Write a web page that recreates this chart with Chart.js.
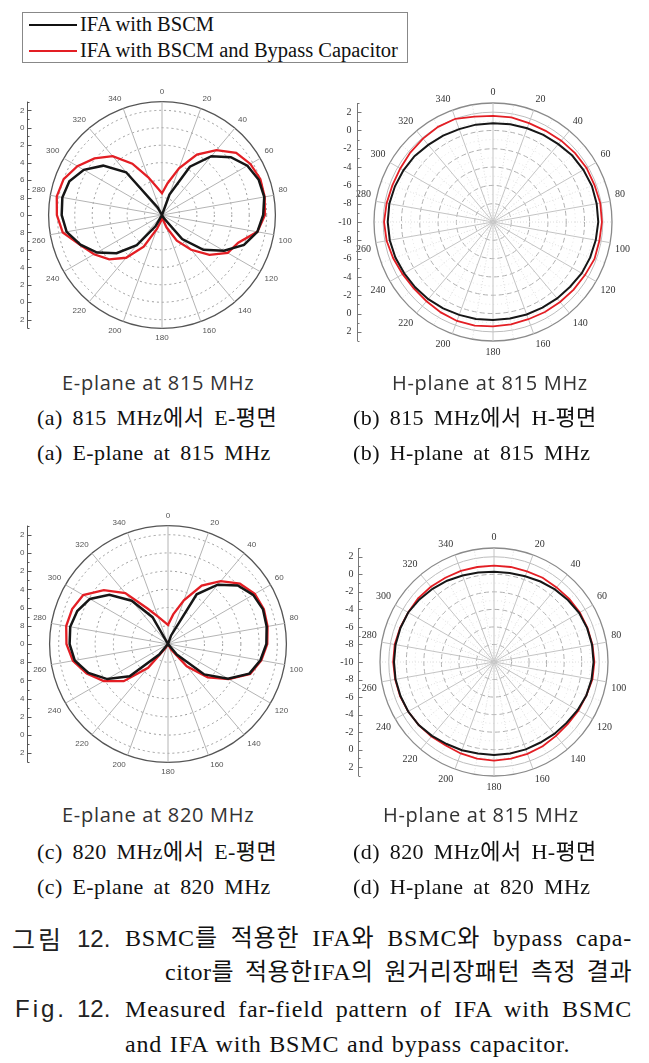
<!DOCTYPE html>
<html><head><meta charset="utf-8">
<script src="https://cdn.jsdelivr.net/npm/chart.js@4/dist/chart.umd.min.js"></script>
<style>
html,body{margin:0;padding:0;background:#fff;}
body{width:649px;height:1063px;position:relative;overflow:hidden;}
.abs{position:absolute;white-space:nowrap;}
canvas{position:absolute;}
.serif{font-family:"Liberation Serif","Noto Sans CJK KR",serif;color:#111;}
.sans{font-family:"Open Sans","Liberation Sans",sans-serif;color:#333;}
.sub{font-size:22px;line-height:22px;word-spacing:4px;letter-spacing:0.4px;}
.plab{font-size:20px;line-height:20px;letter-spacing:0.7px;}
.cap{font-size:24px;line-height:24px;letter-spacing:0.8px;}
.just{text-align:justify;text-align-last:justify;}
.fs{font-family:"Liberation Sans",sans-serif;color:#222;font-size:24px;line-height:24px;}
</style></head><body>

<div class="abs" style="left:22px;top:12px;width:384px;height:49px;border:1px solid #888;"></div>
<div class="abs" style="left:29px;top:24px;width:48px;height:2px;background:#111;"></div>
<div class="abs serif" style="left:80px;top:13px;font-size:20.5px;line-height:22px;">IFA with BSCM</div>
<div class="abs" style="left:29px;top:50px;width:48px;height:2px;background:#e31e24;"></div>
<div class="abs serif" style="left:80px;top:39px;font-size:20.5px;line-height:22px;">IFA with BSCM and Bypass Capacitor</div>

<canvas id="c1" width="290" height="280" style="left:20px;top:80px;"></canvas>
<canvas id="c2" width="314" height="300" style="left:335px;top:80px;"></canvas>
<canvas id="c3" width="300" height="300" style="left:20px;top:500px;"></canvas>
<canvas id="c4" width="314" height="300" style="left:335px;top:520px;"></canvas>

<div class="abs sans plab" style="left:62px;top:373px;">E-plane at 815 MHz</div>
<div class="abs sans plab" style="left:392px;top:373px;">H-plane at 815 MHz</div>
<div class="abs serif sub" style="left:37px;top:407px;">(a) 815 MHz에서 E-평면</div>
<div class="abs serif sub" style="left:353px;top:407px;">(b) 815 MHz에서 H-평면</div>
<div class="abs serif sub" style="left:37px;top:442px;">(a) E-plane at 815 MHz</div>
<div class="abs serif sub" style="left:353px;top:442px;">(b) H-plane at 815 MHz</div>

<div class="abs sans plab" style="left:62px;top:805px;">E-plane at 820 MHz</div>
<div class="abs sans plab" style="left:383px;top:805px;">H-plane at 815 MHz</div>
<div class="abs serif sub" style="left:37px;top:841px;">(c) 820 MHz에서 E-평면</div>
<div class="abs serif sub" style="left:353px;top:841px;">(d) 820 MHz에서 H-평면</div>
<div class="abs serif sub" style="left:37px;top:876px;">(c) E-plane at 820 MHz</div>
<div class="abs serif sub" style="left:353px;top:876px;">(d) H-plane at 820 MHz</div>

<div class="abs" style="left:12px;top:925px;font-family:'Noto Sans CJK KR',sans-serif;color:#222;font-size:25px;line-height:26px;letter-spacing:3px;">그림</div>
<div class="abs fs" style="left:77px;top:927px;">12.</div>
<div class="abs serif cap just" style="left:125px;top:926px;width:507px;">BSMC를 적용한 IFA와 BSMC와 bypass capa-</div>
<div class="abs serif cap just" style="left:165px;top:960px;width:467px;letter-spacing:0.5px;">citor를 적용한IFA의 원거리장패턴 측정 결과</div>
<div class="abs fs" style="left:15px;top:997px;letter-spacing:3px;">Fig.</div>
<div class="abs fs" style="left:77px;top:997px;">12.</div>
<div class="abs serif cap just" style="left:125px;top:997px;width:507px;">Measured far-field pattern of IFA with BSMC</div>
<div class="abs serif cap" style="left:125px;top:1032px;word-spacing:1px;">and IFA with BSMC and bypass capacitor.</div>

<script>
// ---- data (dB), angles 0..350 step 10 ----
const angles = ['0','10','20','30','40','50','60','70','80','90','100','110','120','130','140','150','160','170',
  '180','190','200','210','220','230','240','250','260','270','280','290','300','310','320','330','340','350'];

const e815Black = [-10,-10,-7.5,-3.6,-1.2,0.3,1.3,1.8,1.9,1.6,1.1,0.0,-1.8,-3.8,-6.4,-9.6,-10,-10,
  -10,-10,-10,-8.5,-5.5,-3.2,-1.4,-0.05,1.1,1.5,1.6,1.3,0.35,-1.2,-3.6,-9.0,-10,-10];
const e815Red = [-7.5,-6.3,-4.3,-2.0,-0.3,1.1,1.7,2.0,1.95,1.8,1.1,-0.7,-1.3,-2.9,-4.8,-6.6,-8.5,-9.5,
  -9.7,-9.3,-8.3,-5.8,-3.6,-2.1,-1.0,0.0,1.55,2.05,2.25,2.0,1.2,0.1,-1.2,-3.2,-5.4,-6.8];

const h815Black = [0.8,0.85,0.9,1.0,1.1,1.3,1.4,1.5,1.5,1.5,1.4,1.3,1.2,1.0,0.9,0.8,0.75,0.7,
  0.7,0.75,0.8,0.9,1.0,1.1,1.2,1.35,1.45,1.5,1.5,1.4,1.3,1.2,1.0,0.9,0.8,0.8];
const h815Red = [1.6,1.6,1.5,1.5,1.6,1.7,1.8,1.8,1.9,1.9,1.8,1.8,1.6,1.5,1.4,1.35,1.3,1.35,
  1.4,1.5,1.5,1.4,1.3,1.3,1.4,1.6,1.8,1.9,1.8,1.7,1.7,1.8,1.9,2.0,2.0,1.7];

const e820Black = [-10,-10,-9,-3.7,-1.5,0.0,0.8,1.1,1.0,0.8,0.3,-0.5,-2.4,-4.8,-8.5,-10,-10,-10,
  -10,-10,-10,-10,-8.5,-4.5,-2.3,-0.7,0.4,0.8,0.9,0.6,-0.1,-1.6,-3.8,-6.6,-10,-10];
const e820Red = [-7.9,-6.7,-4.9,-2.6,-1.0,0.3,1.0,1.2,1.1,0.9,0.4,-0.4,-2.3,-4.3,-6.8,-9.3,-10,-10,
  -9.8,-10,-10,-9.5,-6.6,-3.65,-1.85,-0.5,0.6,1.15,1.35,1.2,0.75,-0.8,-2.7,-5.5,-6.8,-7.5];

const h820Black = [0.3,0.3,0.4,0.6,0.8,1.0,1.2,1.3,1.35,1.35,1.3,1.2,1.0,0.8,0.7,0.6,0.6,0.6,
  0.6,0.6,0.7,0.8,1.0,1.2,1.3,1.35,1.4,1.4,1.4,1.35,1.3,1.1,0.9,0.7,0.5,0.35];
const h820Red = [1.0,1.0,1.0,1.1,1.1,1.2,1.3,1.35,1.4,1.45,1.4,1.2,1.1,1.0,1.0,1.1,1.15,1.2,
  1.25,1.2,1.1,1.0,1.1,1.2,1.3,1.4,1.45,1.5,1.5,1.4,1.3,1.3,1.2,1.1,1.05,1.0];

const rMin = -10, rMax = 3;
const ringTicks = [-10,-9,-8,-7,-6,-5,-4,-3,-2,-1,0,1,2,3];
const axisTicks = [-10,-9,-8,-7,-6,-5,-4,-3,-2,-1,0,1,2,3];
const axisLabels = [-10,-8,-6,-4,-2,0,2];

const BLACK = '#161616', RED = '#e31e24';

const leftAxisPlugin = {
  id: 'leftAxis',
  afterDraw(chart, args, o) {
    const r = chart.scales.r, ctx = chart.ctx;
    const x = o.x + 0.5, cy = r.yCenter;
    const ext = r.getDistanceFromCenterForValue(rMax);
    ctx.save();
    ctx.strokeStyle = o.color; ctx.lineWidth = 1;
    ctx.beginPath(); ctx.moveTo(x, cy - ext); ctx.lineTo(x, cy + ext); ctx.stroke();
    axisTicks.forEach(v => {
      const d = r.getDistanceFromCenterForValue(v);
      const len = (v % 2 === 0) ? 4 : 2;
      [-1, 1].forEach(s => {
        const y = Math.round(cy + s * d) + 0.5;
        ctx.beginPath(); ctx.moveTo(x, y); ctx.lineTo(x + len, y); ctx.stroke();
      });
    });
    ctx.fillStyle = o.textColor; ctx.font = o.font;
    ctx.textAlign = 'right'; ctx.textBaseline = 'middle';
    axisLabels.forEach(v => {
      const d = r.getDistanceFromCenterForValue(v);
      if (d === 0) { ctx.fillText(String(v), x - o.gap, cy); return; }
      ctx.fillText(String(v), x - o.gap, cy - d);
      ctx.fillText(String(v), x - o.gap, cy + d);
    });
    ctx.restore();
  }
};

function makePolar(id, black, red, kind, padding, axis) {
  const E = kind === 'E';
  new Chart(document.getElementById(id), {
    type: 'radar',
    data: {
      labels: angles,
      datasets: [
        {data: black, borderColor: BLACK, borderWidth: E ? 2.5 : 2, pointRadius: 0, fill: false, tension: 0, backgroundColor: 'transparent'},
        {data: red, borderColor: RED, borderWidth: E ? 2.3 : 1.8, pointRadius: 0, fill: false, tension: 0, backgroundColor: 'transparent'}
      ]
    },
    options: {
      responsive: false, animation: false, devicePixelRatio: 1,
      layout: {padding},
      plugins: {legend: {display: false}, tooltip: {enabled: false}, leftAxis: axis},
      scales: {
        r: {
          min: rMin, max: rMax,
          afterBuildTicks: s => { s.ticks = ringTicks.map(v => ({value: v})); },
          ticks: {display: false},
          grid: {
            circular: true,
            color: c => {
              const v = c.tick.value;
              if (v === rMax) return E ? '#555' : '#8a8a8a';
              if (v === 2) return E ? '#9a9a9a' : '#bdbdbd';
              if (v % 2 !== 0) return E ? 'rgba(0,0,0,0)' : '#e2e2e2';
              return E ? '#9a9a9a' : '#b0b0b0';
            },
            lineWidth: c => c.tick.value === rMax ? 1.3 : 1
          },
          border: {
            dash: c => {
              const v = c.tick.value;
              if (v === rMax) return [];
              if (v === 2) return E ? [2, 3] : [];
              if (v % 2 !== 0) return [1, 3];
              return E ? [2, 3] : [5, 3];
            }
          },
          angleLines: {
            color: c => (c.index % 2 === 0) ? (E ? '#b4b4b4' : '#c4c4c4') : (E ? 'rgba(0,0,0,0)' : '#dedede'),
            lineWidth: 1,
            borderDash: c => (c.index % 2 === 0) ? [] : [1, 2]
          },
          pointLabels: {
            padding: 5,
            color: E ? '#555' : '#333',
            font: E ? {family: 'Liberation Sans', size: 8} : {family: 'Liberation Serif', size: 10},
            callback: (label, i) => (i % 2 === 0) ? label : ''
          }
        }
      }
    },
    plugins: [leftAxisPlugin]
  });
}

makePolar('c1', e815Black, e815Red, 'E', {left: 3, right: 7, top: 8, bottom: 16},
  {x: 7, gap: 3, color: '#555', textColor: '#555', font: '8px "Liberation Sans"'});
makePolar('c2', h815Black, h815Red, 'H', {left: 13, right: 11, top: 6, bottom: 22},
  {x: 22, gap: 6, color: '#777', textColor: '#333', font: '10px "Liberation Serif"'});
makePolar('c3', e820Black, e820Red, 'E', {left: 3, right: 7, top: 12, bottom: 22},
  {x: 7, gap: 3, color: '#555', textColor: '#555', font: '8px "Liberation Sans"'});
makePolar('c4', h820Black, h820Red, 'H', {left: 14, right: 10, top: 11, bottom: 27},
  {x: 23, gap: 5, color: '#777', textColor: '#333', font: '10px "Liberation Serif"'});
</script>
</body></html>
